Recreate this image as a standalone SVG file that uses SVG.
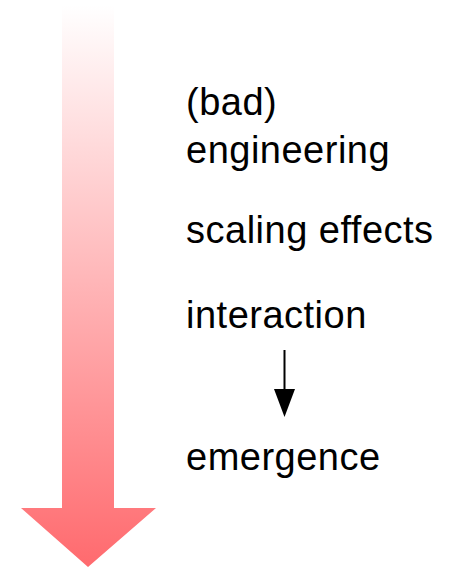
<svg xmlns="http://www.w3.org/2000/svg" width="450" height="572" viewBox="0 0 450 572">
<defs>
<linearGradient id="g" x1="0" y1="5" x2="0" y2="567" gradientUnits="userSpaceOnUse">
<stop offset="0" stop-color="#ffffff"/>
<stop offset="1" stop-color="#ff6a6e"/>
</linearGradient>
<style>
text{font-family:"Liberation Sans",Arial,Helvetica,sans-serif;font-size:38px;letter-spacing:0.5px;fill:#000}
</style>
</defs>
<rect width="450" height="572" fill="#fff"/>
<g id="big-arrow">
<path d="M62,5 L114,5 L114,508 L156,508 L88,567 L21,508 L62,508 Z" fill="url(#g)"/>
</g>
<g id="bad-engineering"><text x="186" y="115">(bad)</text><text x="186" y="163">engineering</text></g>
<g id="scaling-effects"><text x="186" y="243">scaling effects</text></g>
<g id="interaction"><text x="186" y="328">interaction</text></g>
<g id="emergence"><text x="186" y="470">emergence</text></g>
<g id="connectors">
<line x1="284.5" y1="350" x2="284.5" y2="391" stroke="#000" stroke-width="2"/>
<path d="M274,389 L295,389 L284.5,417 Z" fill="#000"/>
</g>
</svg>
